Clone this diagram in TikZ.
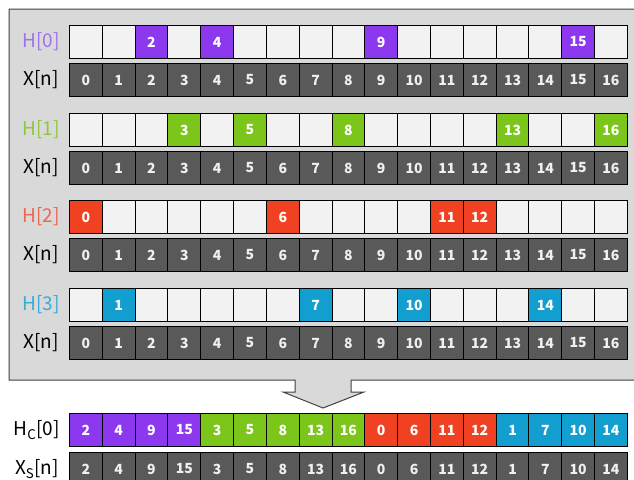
\documentclass[tikz,border=0pt]{standalone}
\usepackage{fontspec}
\setmainfont{Noto Sans CJK JP}
\definecolor{cpur}{HTML}{8B38EE}
\definecolor{cgrn}{HTML}{7CC51A}
\definecolor{cred}{HTML}{F04222}
\definecolor{cblu}{HTML}{139ED0}
\definecolor{lpur}{HTML}{A070EE}
\definecolor{lgrn}{HTML}{8DC840}
\definecolor{lred}{HTML}{F06452}
\definecolor{lblu}{HTML}{3AAAD8}
\definecolor{cdark}{HTML}{595959}
\definecolor{clight}{HTML}{F2F2F2}
\definecolor{cpanel}{HTML}{D9D9D9}
\definecolor{cedge}{HTML}{404040}
\tikzset{
  cell/.style={draw=black, line width=0.9pt, minimum width=32.82pt, minimum height=33pt,
    inner sep=0pt, anchor=north west, font=\fontsize{14}{14}\selectfont\bfseries, text=white},
  emptycell/.style={cell, fill=clight},
  darkcell/.style={cell, fill=cdark, text=white!94!black},
  lab/.style={anchor=east, inner sep=0pt, font=\fontsize{19}{19}\selectfont},
}
\begin{document}
\begin{tikzpicture}[x=1pt,y=-1pt]
\useasboundingbox (0,0) rectangle (634,479);
\clip (0,0) rectangle (634,479);
% panel with arrow
\draw[cedge, fill=cpanel, line width=1pt] (9,9) -- (650,9) -- (650,380) -- (351,380) -- (351,392) -- (364,392)
  -- (323,408) -- (283,392) -- (295,392) -- (295,380) -- (9,380) -- cycle;
% rows
\foreach \r/\hy/\lc/\cc/\hl in {0/25/lpur/cpur/{2,4,9,15}, 1/113/lgrn/cgrn/{3,5,8,13,16},
    2/200/lred/cred/{0,6,11,12}, 3/288/lblu/cblu/{1,7,10,14}} {
  \pgfmathsetmacro{\xy}{\hy+38}
  \foreach \i in {0,...,16} {
    \node[emptycell] (h\r-\i) at ({69+32.82*\i},\hy) {};
    \node[darkcell] (x\r-\i) at ({69+32.82*\i},\xy) {\i};
  }
  \foreach \i in \hl {
    \node[cell, fill=\cc] (hc\r-\i) at ({69+32.82*\i},\hy) {\i};
  }
  \node[lab, text=\lc] (lh\r) at (60,\hy+16.5) {H[\r]};
  \node[lab] (lx\r) at (59,\xy+16.5) {X[n]};
}
% bottom rows
\foreach \v [count=\k from 0] in {2,4,9,15,3,5,8,13,16,0,6,11,12,1,7,10,14} {
  \pgfmathsetmacro{\cc}{\k<4 ? "cpur" : (\k<9 ? "cgrn" : (\k<13 ? "cred" : "cblu"))}
  \node[cell, fill=\cc] (hcb-\k) at ({69+32.82*\k},413) {\v};
  \node[darkcell] (xsb-\k) at ({69+32.82*\k},452) {\v};
}
\node[lab] (lhc) at (60,430) {H\textsubscript{C}[0]};
\node[lab] (lxs) at (59,469) {X\textsubscript{S}[n]};
\end{tikzpicture}
\end{document}
